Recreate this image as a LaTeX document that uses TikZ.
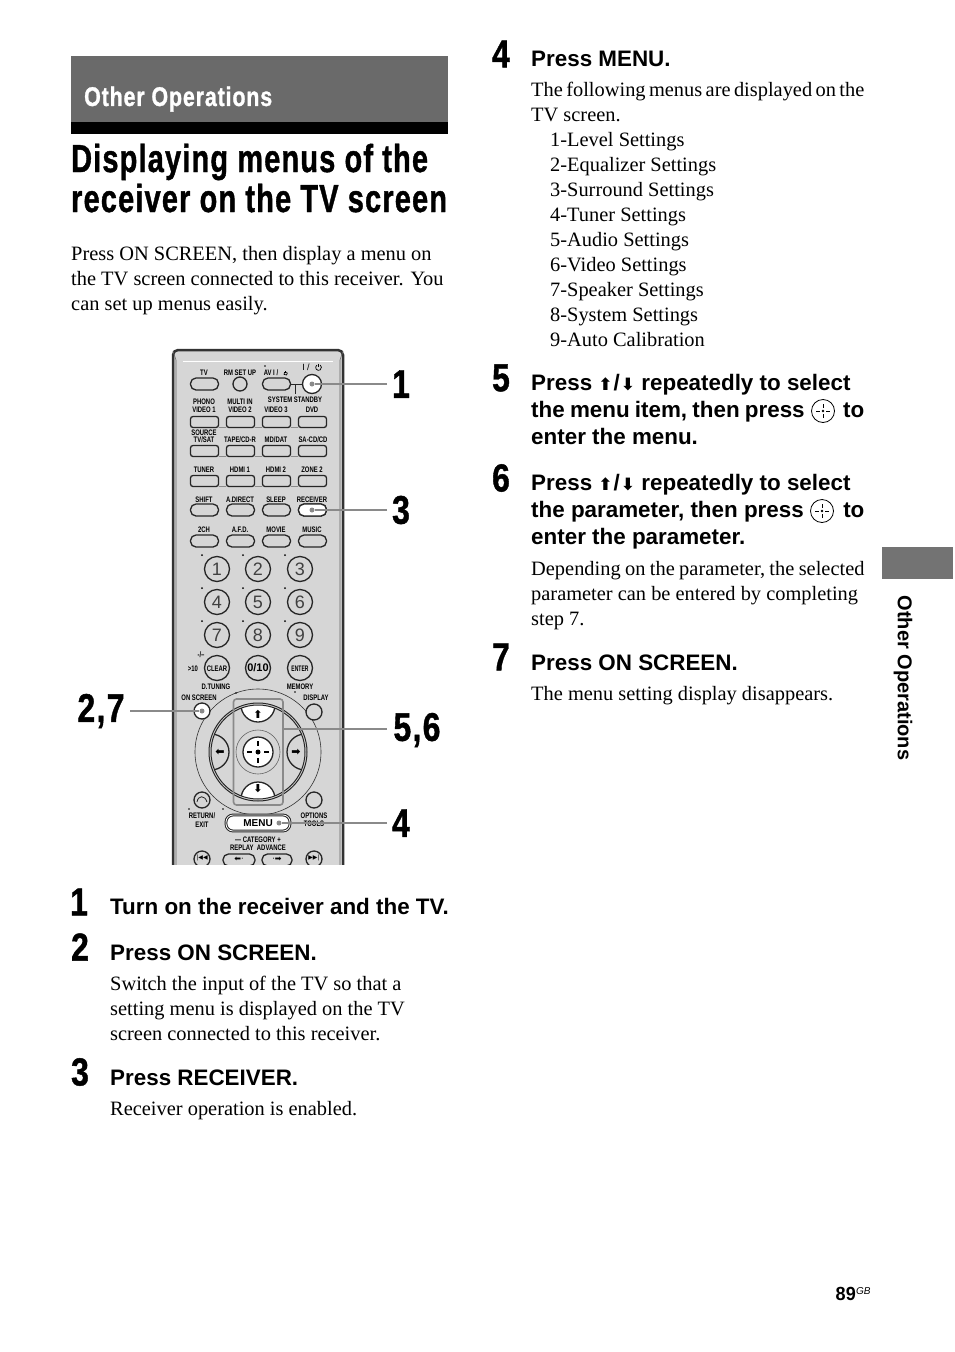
\documentclass[tikz,border=0pt]{standalone}
\usepackage{fontspec}
\setmainfont{Liberation Serif}
\setsansfont{Liberation Sans}
\newfontfamily\symfont{DejaVu Sans}
\newfontfamily\heavyfont[FakeBold=1.2,LetterSpace=4]{Liberation Sans Bold}
\definecolor{bodygray}{HTML}{D6D6D6}
\definecolor{railgray}{HTML}{8A8A8A}
\definecolor{bandgray}{HTML}{6A6A6A}
\newcommand{\upkey}{{\symfont\bfseries\fontsize{17}{17}\selectfont ⬆}}
\newcommand{\downkey}{{\symfont\bfseries\fontsize{17}{17}\selectfont ⬇}}
\tikzset{
	bodytext/.style={anchor=north west,inner sep=0pt,align=left,font=\fontsize{20.4}{25}\selectfont},
	headtext/.style={anchor=north west,inner sep=0pt,align=left,font=\sffamily\bfseries\fontsize{22.4}{27}\selectfont},
	stepnum/.style={inner sep=0pt,xscale=0.82,transform shape,font=\heavyfont\fontsize{39}{39}\selectfont},
	callnum/.style={inner sep=0pt,xscale=0.8,transform shape,font=\heavyfont\fontsize{40}{40}\selectfont},
	titletext/.style={anchor=base west,inner sep=0pt,xscale=0.743,transform shape,font=\heavyfont\fontsize{39}{39}\selectfont},
	tinylabel/.style={inner sep=0pt,align=center,xscale=0.74,transform shape,font=\sffamily\bfseries\fontsize{8}{8.4}\selectfont},
	ovalbtn/.style={draw=black!85,line width=1.3pt,fill=bodygray,rounded corners=5.5pt,minimum width=28pt,minimum height=12pt,inner sep=0pt},
	rectbtn/.style={draw=black!85,line width=1.3pt,fill=bodygray,rounded corners=2.5pt,minimum width=28pt,minimum height=11pt,inner sep=0pt},
	roundbtn/.style={draw=black!85,line width=1.3pt,fill=bodygray,circle,minimum size=16pt,inner sep=0pt},
	digitbtn/.style={draw=black!85,line width=1.3pt,fill=bodygray,circle,minimum size=25pt,inner sep=0pt,font=\sffamily\fontsize{18}{18}\selectfont,text=black!75},
	pressdot/.style={fill=railgray,circle,minimum size=5pt,inner sep=0pt},
	railline/.style={railgray,line width=1pt},
	leader/.style={railgray,line width=1.8pt},
	powermark/.pic={\draw[black,line width=0.7pt] (-1.6,-2.4) arc[start angle=235,end angle=-55,radius=2.9]; \draw[black,line width=0.7pt] (0,-4) -- (0,-0.5);},
}
\begin{document}
\begin{tikzpicture}[x=1pt,y=-1pt]
	\useasboundingbox[fill=white] (0,0) rectangle (954,1352);
	% page head
	\fill[bandgray] (71,56) rectangle (448,122);
	\fill[black] (71,122) rectangle (448,134);
	\node[inner sep=0pt,anchor=west,text=white,xscale=0.793,transform shape,font=\heavyfont\fontsize{27}{27}\selectfont] (bandtitle) at (84,99) {Other Operations};
	\node[titletext] (titlea) at (71,172) {Displaying menus of the};
	\node[titletext] (titleb) at (71,212) {receiver on the TV screen};
	\node[bodytext] (intro) at (71,246) {Press ON SCREEN, then display a menu on\\the TV screen connected to this receiver. You\\can set up menus easily.};
	% remote
	\begin{scope}
		\clip (160,340) rectangle (360,864);
		\draw[black!80,line width=2.5pt,fill=bodygray,rounded corners=5pt] (173,880) -- (173,350) -- (343,350) -- (343,880);
		\draw[black!60,line width=0.6pt] (176,880) -- (176,360) -- (173,351) (340,880) -- (340,360) -- (343,351);
		\draw[white,line width=0.6pt] (183,361) -- (333,361);
		\foreach \x/\nm in {204/a,240/b,276/c,312/d}{
			\node[rectbtn] (two\nm) at (\x.5,422) {};
			\node[rectbtn] (three\nm) at (\x.5,451) {};
			\node[rectbtn] (four\nm) at (\x.5,481) {};
			\node[ovalbtn] (five\nm) at (\x.5,510) {};
			\node[ovalbtn] (six\nm) at (\x.5,541) {};
		}
		\foreach \r in {two,three,four}{
			\draw[railline] ([yshift=1pt]\r a.south east) -- ([yshift=1pt]\r b.south west);
			\draw[railline] ([yshift=1pt]\r b.south east) -- ([yshift=1pt]\r c.south west);
			\draw[railline] ([yshift=1pt]\r c.south east) -- ([yshift=1pt]\r d.south west);
		}
		\node[ovalbtn] (tvbtn) at (204.5,384) {};
		\node[roundbtn,minimum size=14pt] (setupbtn) at (240,384) {};
		\node[ovalbtn] (avbtn) at (276.5,384) {};
		\node[roundbtn,minimum size=19pt,fill=white] (powerbtn) at (312,384) {};
		\coordinate (standby) at (295,394);
		\draw[black!85] (avbtn) -- (powerbtn);
		\draw[black!85] (295,384) -- (standby);
		\node[ovalbtn,fill=white] (receiverbtn) at (fived) {};
		% digit keys
		\foreach \x/\y/\d in {217/569/1,258/569/2,300/569/3,217/602/4,258/602/5,300/602/6,217/635/7,258/635/8,300/635/9}{
			\node[digitbtn] (key\d) at (\x,\y) {\d};
			\fill (\x-15,\y-14) circle (1pt);
		}
		\node[digitbtn] (clearkey) at (217,668) {};
		\node[digitbtn,font=\sffamily\bfseries\fontsize{11}{11}\selectfont,text=black] (zerokey) at (258,668) {0/10};
		\node[digitbtn] (enterkey) at (300,668) {};
		\node[tinylabel] (cleartext) at (217,669) {CLEAR};
		\node[tinylabel,xscale=0.85] (entertext) at (300,669) {ENTER};
		% cursor keys
		\draw[black!80,line width=0.6pt] (258,752) circle (63);
		\node[roundbtn,fill=white] (screenbtn) at (202,711) {};
		\node[roundbtn] (displaybtn) at (314,712) {};
		\node[roundbtn] (returnbtn) at (202,800) {};
		\node[roundbtn] (optionsbtn) at (314,800) {};
		\draw[black!85,line width=0.8pt] (197,802) .. controls (198,795) and (205,795) .. (207,802);
		\foreach \x/\y in {265/366,236/693,295/692,189/809,223/809}{
			\fill (\x,\y) circle (0.9pt);
		}
		\draw[black!85,line width=1pt] (258,752) circle (49);
		\begin{scope}
			\clip (258,752) circle (47);
			\fill[bodygray] (200,700) rectangle (320,810);
			\draw[black!85,line width=1.3pt,fill=white] (258,705) circle (17);
			\draw[black!85,line width=1.3pt,fill=white] (258,799) circle (17);
			\draw[black!85,line width=1.3pt] (211,752) circle (18);
			\draw[black!85,line width=1.3pt] (305,752) circle (18);
		\end{scope}
		\draw[black!85,line width=1pt] (258,752) circle (47);
		\draw[black!60,line width=0.6pt] (258,752) circle (22);
		\draw[black!85,line width=1.3pt,fill=white] (258,752) circle (15);
		\draw[black,line width=1.2pt] (258,741) -- (258,746) (258,758) -- (258,763) (247,752) -- (252,752) (264,752) -- (269,752);
		\fill (258,752) circle (2.5);
		\foreach \x/\y/\g/\nm in {258/714/⬆/keyup,258/789/⬇/keydown,220/752/⬅/keyleft,296/752/➡/keyright}{
			\node[inner sep=0pt,font=\symfont\bfseries\fontsize{11}{11}\selectfont] (\nm) at (\x,\y) {\g};
		}
		\draw[railgray,line width=1.6pt,rounded corners=3pt] (233.5,699) rectangle (283,805);
		\node[draw=black!85,line width=1pt,fill=white,double,double distance=0.8pt,rounded corners=7pt,minimum width=64pt,minimum height=16pt,inner sep=0pt,font=\sffamily\bfseries\fontsize{10}{10}\selectfont] (menubtn) at (258,823) {MENU};
		% bottom row
		\node[roundbtn] (prevbtn) at (202,859) {};
		\node[roundbtn] (nextbtn) at (314,859) {};
		\node[ovalbtn,minimum width=32pt] (replaybtn) at (239,860) {};
		\node[ovalbtn,minimum width=30pt] (advancebtn) at (277,860) {};
		\node[inner sep=0pt,font=\symfont\fontsize{6}{6}\selectfont] (previcon) at (202,858) {|◀◀};
		\node[inner sep=0pt,font=\symfont\fontsize{6}{6}\selectfont] (nexticon) at (314,858) {▶▶|};
		\node[inner sep=0pt,font=\symfont\fontsize{8}{8}\selectfont] (replayicon) at (239,859) {⬅·};
		\node[inner sep=0pt,font=\symfont\fontsize{8}{8}\selectfont] (advanceicon) at (277,859) {·➡};
		% press marks
		\node[pressdot] (markone) at (312,384) {};
		\node[pressdot] (markthree) at (312,510) {};
		\node[pressdot] (marktwo) at (202,711) {};
		\node[pressdot] (markfour) at (279,823) {};
		\coordinate (markfive) at (283,729);
		% key labels
		\foreach \x/\y/\t [count=\i] in {
			204/373/TV,240/373/RM SET UP,271/373/{AV I /},
			295/400/SYSTEM STANDBY,204/406/{PHONO\\VIDEO 1},240/406/{MULTI IN\\VIDEO 2},276/410/VIDEO 3,312/410/DVD,
			204/433/SOURCE,204/440/{TV/SAT},240/440/{TAPE/CD-R},276/440/{MD/DAT},313/440/{SA-CD/CD},
			204/470/TUNER,240/470/HDMI 1,276/470/HDMI 2,312/470/ZONE 2,
			204/500/SHIFT,240/500/A.DIRECT,276/500/SLEEP,312/500/RECEIVER,
			204/530/2CH,240/530/A.F.D.,276/530/MOVIE,312/530/MUSIC,
			193/669/>10,201/655/{-/--},216/687/D.TUNING,300/687/MEMORY,199/698/ON SCREEN,316/698/DISPLAY,
			202/820/{RETURN/\\EXIT},314/820/{OPTIONS\\TOOLS},258/840/--- CATEGORY +,258/848/REPLAY\ \ ADVANCE}{
			\node[tinylabel] (label\i) at (\x,\y) {\t};
		}
		\node[inner sep=0pt,font=\sffamily\fontsize{9}{9}\selectfont] (powerlabel) at (306,367) {I /};
		\pic at (318.5,367.5) {powermark};
		\pic[scale=0.6] at (285.5,373.5) {powermark};
	\end{scope}
	% callouts
	\node[callnum] (callone) at (401,384) {1};
	\node[callnum] (callthree) at (401,510) {3};
	\node[callnum] (calltwo) at (101,711) {2,7};
	\node[callnum] (callfive) at (417,730) {5,6};
	\node[callnum] (callfour) at (401,823) {4};
	\coordinate (endone) at (387,384);
	\coordinate (endthree) at (387,510);
	\coordinate (endtwo) at (130,711);
	\coordinate (endfive) at (387,729);
	\coordinate (endfour) at (387,823);
	\draw[leader] (endone) -- (markone);
	\draw[leader] (endthree) -- (markthree);
	\draw[leader] (endtwo) -- (marktwo);
	\draw[leader] (endfive) -- (markfive);
	\draw[leader] (endfour) -- (markfour);
	% left column
	\node[stepnum] (stepone) at (79,902) {1};
	\node[headtext] (headone) at (110,898) {Turn on the receiver and the TV.};
	\node[stepnum] (steptwo) at (80,947) {2};
	\node[headtext] (headtwo) at (110,945) {Press ON SCREEN.};
	\node[bodytext] (bodytwo) at (110,976) {Switch the input of the TV so that a\\setting menu is displayed on the TV\\screen connected to this receiver.};
	\node[stepnum] (stepthree) at (80,1072) {3};
	\node[headtext] (headthree) at (110,1070) {Press RECEIVER.};
	\node[bodytext] (bodythree) at (110,1101) {Receiver operation is enabled.};
	% right column
	\node[stepnum] (stepfour) at (501,54) {4};
	\node[headtext] (headfour) at (531,51) {Press MENU.};
	\node[bodytext] (bodyfour) at (531,82) {{\spaceskip=3.4pt The following menus are displayed on the}\\TV screen.\\
		\hspace*{19pt}1-Level Settings\\\hspace*{19pt}2-Equalizer Settings\\\hspace*{19pt}3-Surround Settings\\\hspace*{19pt}4-Tuner Settings\\\hspace*{19pt}5-Audio Settings\\\hspace*{19pt}6-Video Settings\\\hspace*{19pt}7-Speaker Settings\\\hspace*{19pt}8-System Settings\\\hspace*{19pt}9-Auto Calibration};
	\node[stepnum] (stepfive) at (501,378) {5};
	\node[headtext] (headfive) at (531,374) {Press \upkey\kern1pt/\kern1pt\downkey{} repeatedly to select\\{\spaceskip=5.2pt the menu item, then press} \hspace{26pt} to\\enter the menu.};
	\node[stepnum] (stepsix) at (501,478) {6};
	\node[headtext] (headsix) at (531,474) {Press \upkey\kern1pt/\kern1pt\downkey{} repeatedly to select\\the parameter, then press \hspace{27pt} to\\enter the parameter.};
	\node[bodytext] (bodysix) at (531,561) {{\spaceskip=4.4pt Depending on the parameter, the selected}\\parameter can be entered by completing\\step 7.};
	\node[stepnum] (stepseven) at (501,657) {7};
	\node[headtext] (headseven) at (531,655) {Press ON SCREEN.};
	\node[bodytext] (bodyseven) at (531,686) {The menu setting display disappears.};
	% enter marks in the text
	\foreach \x/\y in {823/411,822/511}{
		\draw[black,line width=0.8pt] (\x,\y) circle (11.5);
		\draw[black,line width=0.8pt] (\x,\y-7) -- (\x,\y-3) (\x,\y+3) -- (\x,\y+7) (\x-7,\y) -- (\x-3,\y) (\x+3,\y) -- (\x+7,\y);
		\fill (\x,\y) circle (1.3);
	}
	% side tab and folio
	\fill[black!55] (882,547) rectangle (953,579);
	\node[inner sep=0pt,rotate=-90,font=\sffamily\bfseries\fontsize{20}{20}\selectfont] (sidetab) at (903,678) {Other Operations};
	\node[inner sep=0pt,anchor=base east,xscale=0.95,transform shape,font=\sffamily\bfseries\fontsize{19}{19}\selectfont] (pagenum) at (856,1300) {89};
	\node[inner sep=0pt,anchor=base west,font=\sffamily\itshape\fontsize{10}{10}\selectfont] (pagegb) at (856,1294) {GB};
\end{tikzpicture}
\end{document}
